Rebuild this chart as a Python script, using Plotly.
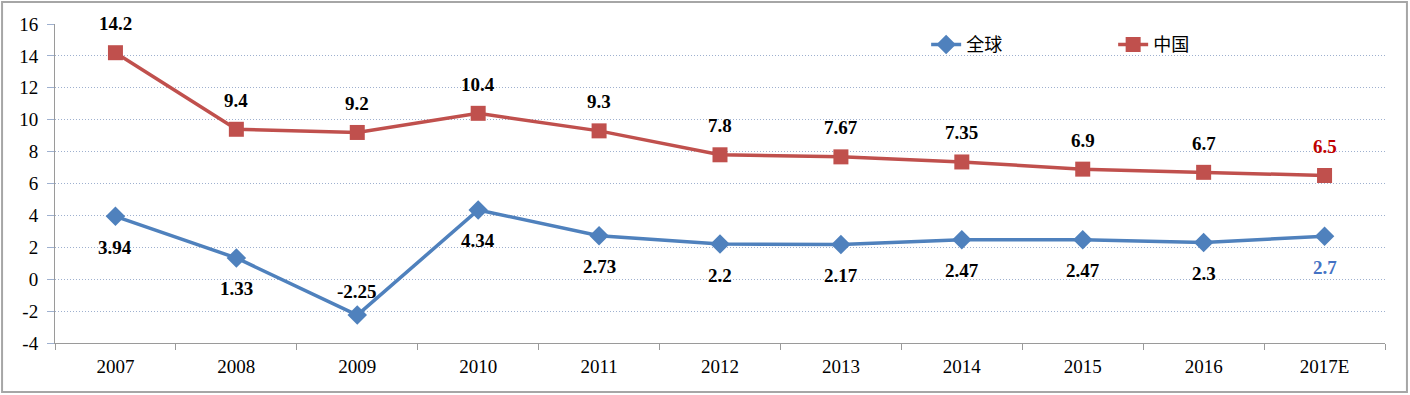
import plotly.graph_objects as go

categories = ["2007", "2008", "2009", "2010", "2011", "2012", "2013", "2014", "2015", "2016", "2017E"]
global_vals = [3.94, 1.33, -2.25, 4.34, 2.73, 2.2, 2.17, 2.47, 2.47, 2.3, 2.7]
china_vals = [14.2, 9.4, 9.2, 10.4, 9.3, 7.8, 7.67, 7.35, 6.9, 6.7, 6.5]
global_labels = ["3.94", "1.33", "-2.25", "4.34", "2.73", "2.2", "2.17", "2.47", "2.47", "2.3", "2.7"]
china_labels = ["14.2", "9.4", "9.2", "10.4", "9.3", "7.8", "7.67", "7.35", "6.9", "6.7", "6.5"]
y_ticks = [-4, -2, 0, 2, 4, 6, 8, 10, 12, 14, 16]
y_tick_text = ["-4", "-2", "0", "2", "4", "6", "8", "10", "12", "14", "16"]

BLUE = "#4F81BD"
RED = "#C0504D"
GRID = "#9EB0CF"
SERIF = "Liberation Serif, Times New Roman, serif"

fig = go.Figure()
fig.add_trace(go.Scatter(
    x=categories, y=global_vals, name="全球", mode="lines+markers",
    line=dict(color=BLUE, width=3.5),
    marker=dict(symbol="diamond", size=15, color=BLUE),
))
fig.add_trace(go.Scatter(
    x=categories, y=china_vals, name="中国", mode="lines+markers",
    line=dict(color=RED, width=3.5),
    marker=dict(symbol="square", size=15, color=RED),
))

annotations = []
last = len(categories) - 1
for i, (v, t) in enumerate(zip(china_vals, china_labels)):
    annotations.append(dict(
        x=i, y=v, xref="x", yref="y", text="<b>" + t + "</b>", showarrow=False, yshift=29,
        font=dict(family=SERIF, size=19, color="#C00000" if i == last else "black"),
    ))
for i, (v, t) in enumerate(zip(global_vals, global_labels)):
    shift = 24 if v < 0 else -31
    annotations.append(dict(
        x=i, y=v, xref="x", yref="y", text="<b>" + t + "</b>", showarrow=False, yshift=shift,
        font=dict(family=SERIF, size=19, color="#4472C4" if i == last else "black"),
    ))

fig.update_layout(
    width=1410, height=395,
    margin=dict(l=55, r=25, t=24, b=52),
    paper_bgcolor="white", plot_bgcolor="white",
    showlegend=True,
    legend=dict(
        orientation="h", x=0.655, y=0.935, xanchor="left", yanchor="middle",
        font=dict(family="Noto Sans CJK SC", size=18, color="black"),
        bgcolor="rgba(0,0,0,0)", entrywidth=142, entrywidthmode="pixels", tracegroupgap=0,
    ),
    annotations=annotations,
    shapes=[dict(
        type="rect", xref="paper", yref="paper",
        x0=-0.0398, x1=1.0165, y0=-0.1536, y1=1.069,
        line=dict(color="#A6A6A6", width=2), fillcolor="rgba(0,0,0,0)", layer="below",
    )],
)
fig.update_xaxes(
    type="category", range=[-0.5, 10.5],
    showline=True, linecolor="#9A9A9A", linewidth=1, mirror=False,
    ticks="outside", tickson="boundaries", ticklen=6, tickcolor="#9A9A9A",
    showgrid=False, zeroline=False, ticklabelstandoff=6,
    tickfont=dict(family=SERIF, size=19, color="black"),
)
fig.update_yaxes(
    range=[-4, 16], tickvals=y_ticks, ticktext=y_tick_text,
    showline=True, linecolor="#9A9A9A", linewidth=1,
    ticks="outside", ticklen=7, tickcolor=GRID,
    showgrid=True, gridcolor=GRID, griddash="1px,2px", gridwidth=1,
    zeroline=False, ticklabelstandoff=5,
    tickfont=dict(family=SERIF, size=19, color="black"),
)

fig.write_html("out.html", config={"displayModeBar": False},
               post_script="document.body.style.margin='0px';")
